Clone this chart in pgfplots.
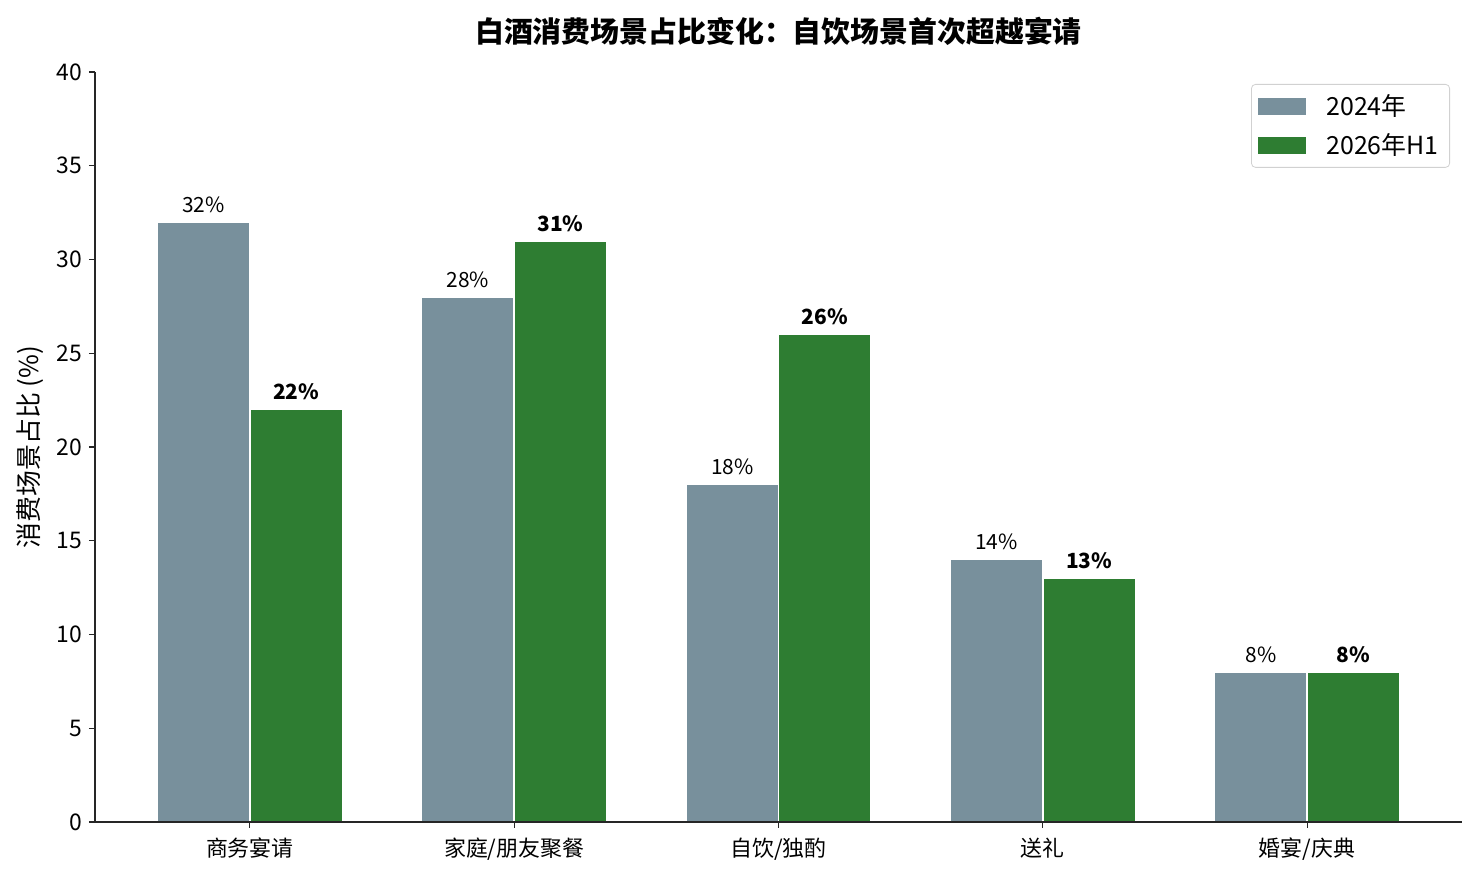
\documentclass[border=0pt]{standalone}
\usepackage{fontspec}
\setmainfont{Noto Sans CJK SC}
\usepackage{pgfplots}
\pgfplotsset{compat=1.18}
\definecolor{bargrey}{HTML}{78909C}
\definecolor{bargreen}{HTML}{2E7D32}
\begin{document}
\begin{tikzpicture}
\begin{axis}[
  name=ax,
  scale only axis,
  width=683.5bp, height=375bp,
  xmin=-0.586, xmax=4.586, ymin=0, ymax=40,
  enlargelimits=false, clip=false, axis on top,
  axis x line*=bottom, axis y line*=left,
  axis line style={black!85, line width=0.6bp},
  xtick={0,...,4},
  xticklabels={商务宴请,家庭/朋友聚餐,自饮/独酌,送礼,婚宴/庆典},
  ytick={0,5,...,40},
  tick align=outside, major tick length=3bp,
  tick style={black!85, line width=0.6bp},
  ticklabel style={font=\fontsize{11.5}{13}\selectfont},
  xticklabel style={font=\fontsize{11}{13}\selectfont, yshift=-1.5bp},
  /pgf/number format/assume math mode=true,
  ylabel={消费场景占比 (\%)},
  ylabel style={font=\fontsize{13}{15}\selectfont, at={(rel axis cs:0,0.5)}, anchor=center, yshift=32.5bp},
  title={白酒消费场景占比变化：自饮场景首次超越宴请},
  title style={font=\fontsize{14.5}{17}\selectfont\bfseries, at={(rel axis cs:0.5,1)}, anchor=center, yshift=14.5bp},
  ybar, bar width=0.35,
  legend style={at={(rel axis cs:1,1)}, anchor=north east, xshift=-6bp, yshift=-6bp,
    draw=black!18, rounded corners=2bp, font=\fontsize{12.5}{14}\selectfont,
    row sep=3.5bp, inner xsep=3.5bp, inner ysep=3bp},
  legend cell align=left,
  legend image code/.code={%
    \path[#1, draw=none, sharp corners] (0bp,-4.25bp) rectangle (24bp,4.25bp);
    \path[draw=none, fill=none] (0bp,0bp) -- (32bp,0bp);},
  nodes near coords={\pgfmathprintnumber{\pgfplotspointmeta}\%},
  every node near coord/.append style={font=\fontsize{10.5}{12}\selectfont, black, yshift=1bp},
]
\addplot[fill=bargrey, draw=white, line width=0.8bp, bar shift=-0.175]
  coordinates {(0,32) (1,28) (2,18) (3,14) (4,8)};
\addplot[fill=bargreen, draw=white, line width=0.8bp, bar shift=0.175,
  every node near coord/.append style={font=\fontsize{10.5}{12}\selectfont\bfseries}]
  coordinates {(0,22) (1,31) (2,26) (3,13) (4,8)};
\legend{2024年, 2026年H1}
\end{axis}
\path ([xshift=-47.5bp,yshift=-26.5bp]ax.south west) rectangle ([xshift=7.5bp,yshift=36bp]ax.north east);
\end{tikzpicture}
\end{document}
